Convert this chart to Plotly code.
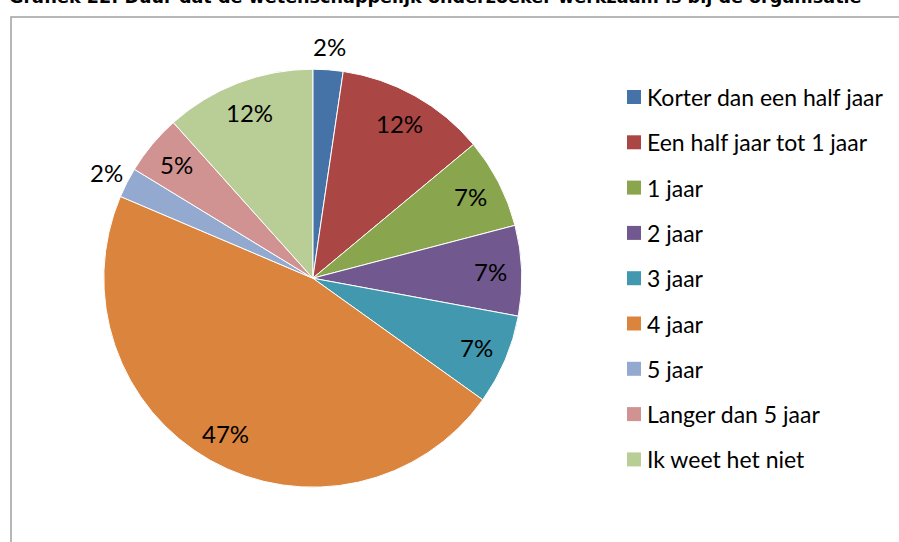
import math
import plotly.graph_objects as go

labels = ["Korter dan een half jaar", "Een half jaar tot 1 jaar", "1 jaar", "2 jaar",
          "3 jaar", "4 jaar", "5 jaar", "Langer dan 5 jaar", "Ik weet het niet"]
counts = [1, 5, 3, 3, 3, 20, 1, 2, 5]
colors = ["#4572A7", "#AA4643", "#89A54E", "#71588F", "#4198AF",
          "#DB843D", "#93A9CF", "#D19392", "#B9CD96"]
label_outside = [True, False, False, False, False, False, True, False, False]
title_text = "Grafiek 22: Duur dat de wetenschappelijk onderzoeker werkzaam is bij de organisatie"

W, H = 899, 542
CX, CY, R = 312.8, 278.2, 209.0   # pie centre (px from top-left) and radius
font_family = "Lato, 'Open Sans', sans-serif"

fig = go.Figure()
fig.add_trace(go.Pie(
    labels=labels, values=counts, sort=False, direction="clockwise", rotation=0,
    marker=dict(colors=colors, line=dict(color="white", width=1)),
    textinfo="none",
    domain=dict(x=[(CX - R) / W, (CX + R) / W], y=[(H - CY - R) / H, (H - CY + R) / H]),
    showlegend=False, hoverinfo="label+percent",
))

shapes = [dict(type="rect", xref="paper", yref="paper",
               x0=11 / W, x1=1.05, y0=-0.05, y1=(H - 17) / H,
               line=dict(color="#A0A0A0", width=1.5), fillcolor="rgba(0,0,0,0)", layer="below")]
annotations = [dict(text="<b>" + title_text + "</b>", xref="paper", yref="paper",
                    x=7 / W, y=(H - 9) / H, xanchor="left", yanchor="bottom",
                    showarrow=False, font=dict(family="DejaVu Sans", size=17.6, color="black"))]

# percentage labels placed from the data (cumulative angles of the slices)
total = sum(counts)
cum = 0
for c, outside in zip(counts, label_outside):
    mid = (cum + c / 2) / total * 2 * math.pi
    cum += c
    r = R * (1.11 if outside else 0.85)
    px = CX + r * math.sin(mid)
    py = CY - r * math.cos(mid)
    annotations.append(dict(text=f"{round(100 * c / total)}%", xref="paper", yref="paper",
                            x=px / W, y=(H - py) / H, xanchor="center", yanchor="middle",
                            showarrow=False,
                            font=dict(family=font_family, size=24, color="black")))

# legend
leg_y0, leg_dy = 97, 45.3
for i, (lab, col) in enumerate(zip(labels, colors)):
    yc = leg_y0 + i * leg_dy
    shapes.append(dict(type="rect", xref="paper", yref="paper",
                       x0=627 / W, x1=641 / W, y0=(H - yc - 7) / H, y1=(H - yc + 7) / H,
                       line=dict(width=0), fillcolor=col))
    annotations.append(dict(text=lab, xref="paper", yref="paper", x=645 / W, y=(H - yc) / H,
                            xanchor="left", yanchor="middle", showarrow=False,
                            font=dict(family=font_family, size=23, color="black")))

fig.update_layout(width=W, height=H, margin=dict(l=0, r=0, t=0, b=0),
                  paper_bgcolor="white", plot_bgcolor="white",
                  shapes=shapes, annotations=annotations)
fig.write_html("out.html", config={"displayModeBar": False},
               post_script="document.body.style.margin='0';")
